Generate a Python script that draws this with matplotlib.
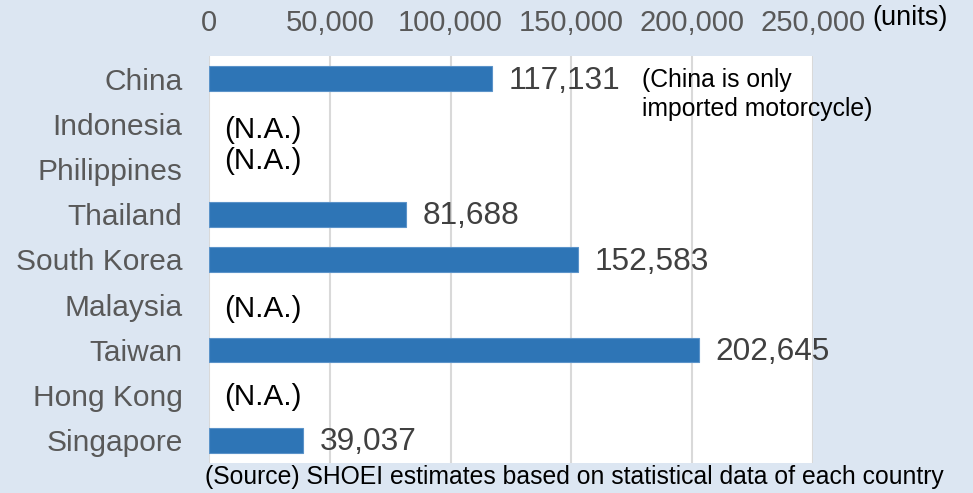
import matplotlib
matplotlib.use("Agg")
import matplotlib.pyplot as plt

plt.rcParams['font.family'] = ['Liberation Sans', 'DejaVu Sans']

# Data (units); None = not available
countries = ["China", "Indonesia", "Philippines", "Thailand", "South Korea",
             "Malaysia", "Taiwan", "Hong Kong", "Singapore"]
units = [117131, None, None, 81688, 152583, None, 202645, None, 39037]
x_ticks = [0, 50000, 100000, 150000, 200000, 250000]
x_tick_labels = ["0", "50,000", "100,000", "150,000", "200,000", "250,000"]
china_note = "(China is only\nimported motorcycle)"
source_note = "(Source) SHOEI estimates based on statistical data of each country"

BG = "#DCE6F2"
BAR = "#2E75B6"
GRID = "#D9D9D9"

fig = plt.figure(figsize=(9.73, 4.93), dpi=100, facecolor=BG)
ax = fig.add_axes([209 / 973, 1 - 463 / 493, (813 - 209) / 973, (463 - 56) / 493])
ax.set_facecolor("white")

ypos = list(range(len(countries)))
for y, v in zip(ypos, units):
    if v is None:
        continue
    ax.barh(y, v, height=0.55, color=BAR, edgecolor="#5B93C9", linewidth=0.8, zorder=3)
    ax.annotate(f"{v:,}", xy=(v, y), xytext=(12, -1.5), textcoords="offset points",
                ha="left", va="center", fontsize=22.8, color="#404040", zorder=4)

# "(N.A.)" markers, nudged so neighbouring rows do not collide
na_shift = {1: 0.13, 2: -0.17, 5: 0.1, 7: 0.04}
for y, v in zip(ypos, units):
    if v is None:
        ax.annotate("(N.A.)", xy=(0, y + na_shift.get(y, 0)), xytext=(11, 0),
                    textcoords="offset points", ha="left", va="center",
                    fontsize=21.3, color="black", zorder=4)

ax.annotate(china_note, xy=(units[0], 0.35), xytext=(108, 0),
            textcoords="offset points", ha="left", va="center",
            fontsize=17.8, color="black", linespacing=1.25, zorder=4,
            annotation_clip=False)

ax.set_xlim(0, 250000)
ax.set_ylim(len(countries) - 0.5, -0.5)
ax.set_yticks(ypos)
ax.set_yticklabels(countries, fontsize=21.5, color="#595959")
ax.set_xticks(x_ticks)
ax.set_xticklabels(x_tick_labels, fontsize=21, color="#595959")
ax.xaxis.tick_top()
ax.tick_params(axis="x", length=0, pad=14)
ax.tick_params(axis="y", length=0, pad=19)
ax.grid(axis="x", color=GRID, linewidth=1.5, zorder=0)
for s in ax.spines.values():
    s.set_visible(False)

fig.text(910 / 973, 1 - 18 / 493, "(units)", fontsize=19.5, color="black",
         ha="center", va="center")
fig.text(205 / 973, 1 - 477 / 493, source_note, fontsize=17.8, color="black",
         ha="left", va="center")

fig.savefig("out.png", dpi=100, facecolor=BG)
